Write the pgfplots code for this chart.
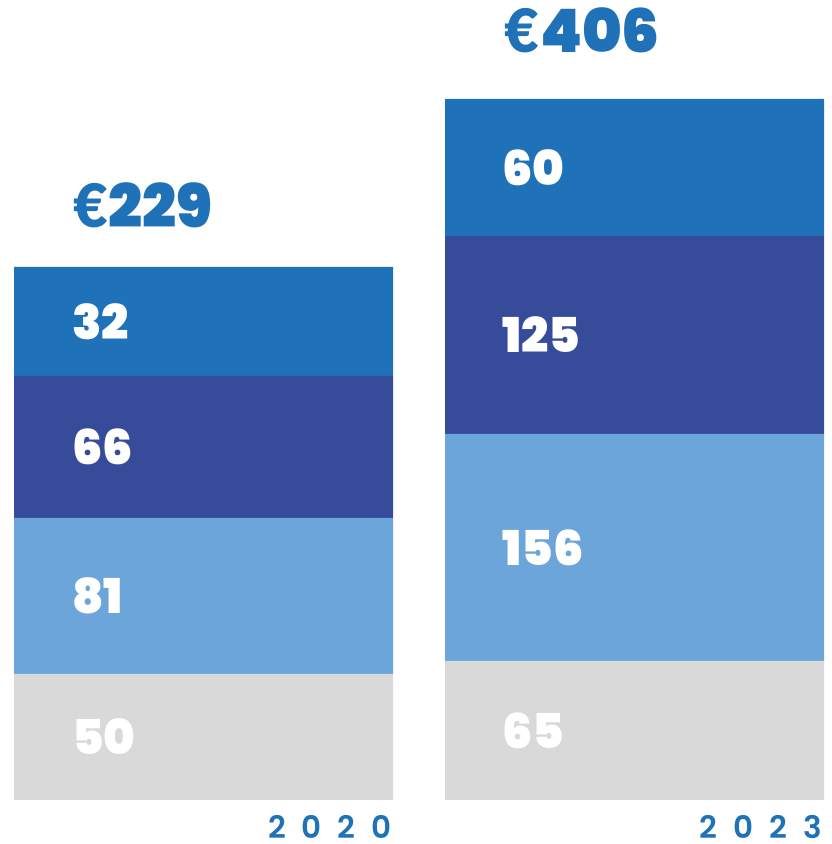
\documentclass[border=0pt]{standalone}
\usepackage{fontspec}
\setmainfont{Poppins}
\newfontfamily\heavy{Poppins Black}
\newfontfamily\euro{Lato Black}
\newfontfamily\semi{Poppins SemiBold}
\usepackage{pgfplots}
\pgfplotsset{compat=1.18}
\definecolor{cTop}{HTML}{1F72B8}
\definecolor{cDark}{HTML}{364B9A}
\definecolor{cLight}{HTML}{6CA5DA}
\definecolor{cGray}{HTML}{D9D9D9}
\pgfplotsset{base/.style={width=832bp,height=844bp,scale only axis,
  xmin=0,xmax=832,ymin=-44,ymax=800,hide axis,clip=false}}
\begin{document}
\begin{tikzpicture}
% drawn heights of the segments (picture units); values shown as labels
\begin{axis}[base,ybar stacked,bar width=379]
\path (rel axis cs:0,0) rectangle (rel axis cs:1,1);
\addplot[fill=cGray,draw=none] coordinates {(203.5,126) (634.5,139)};
\addplot[fill=cLight,draw=none] coordinates {(203.5,156) (634.5,227)};
\addplot[fill=cDark,draw=none] coordinates {(203.5,142) (634.5,198)};
\addplot[fill=cTop,draw=none] coordinates {(203.5,109) (634.5,137)};
\end{axis}
\begin{axis}[base]
\path (rel axis cs:0,0) rectangle (rel axis cs:1,1);
\addplot[only marks,mark=none,nodes near coords,point meta=explicit symbolic,
  nodes near coords style={anchor=west,inner sep=0pt,text=white,font=\heavy\fontsize{48bp}{48bp}\selectfont}]
  coordinates {(72,63)[50] (72,204)[81] (72,353)[66] (72,478.5)[32]
               (502,69.5)[65] (502,252.5)[156] (502,465)[125] (502,632.5)[60]};
\addplot[only marks,mark=none,nodes near coords,point meta=explicit symbolic,
  nodes near coords style={anchor=base west,inner sep=0pt,text=cTop,font=\heavy\fontsize{60bp}{60bp}\selectfont}]
  coordinates {(73,572)[{{\euro €}\kern1bp 229}] (504,747)[{{\euro €}\kern1bp 406}]};
\addplot[only marks,mark=none,nodes near coords,point meta=explicit symbolic,
  nodes near coords style={anchor=base east,inner sep=0pt,text=cTop,font=\semi\fontsize{31bp}{31bp}\selectfont}]
  coordinates {(392,-38)[{2\hskip16bp 0\hskip16bp 2\hskip16bp 0}] (822,-38)[{2\hskip16bp 0\hskip16bp 2\hskip16bp 3}]};
\end{axis}
\end{tikzpicture}
\end{document}
